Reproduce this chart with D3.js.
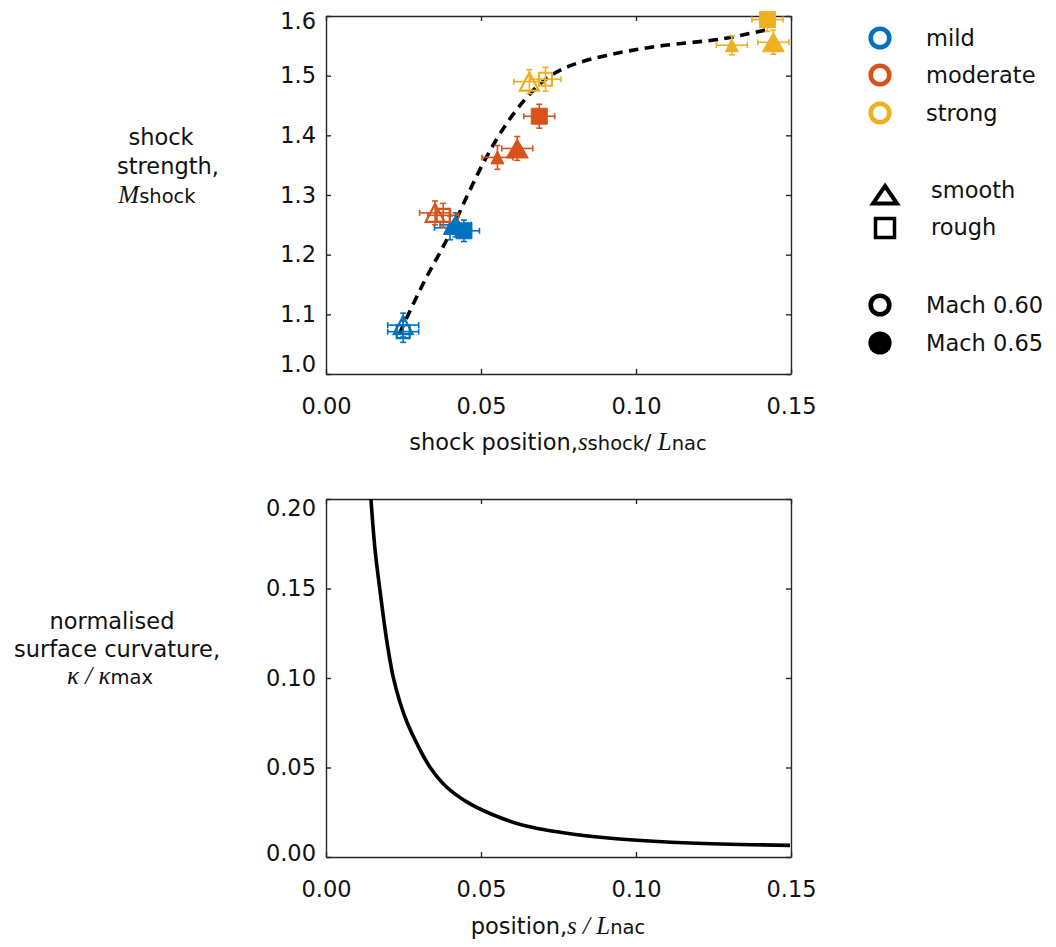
<!DOCTYPE html>
<html>
<head>
<meta charset="utf-8">
<script src="https://cdn.jsdelivr.net/npm/d3@7"></script>
<style>
  html, body { margin: 0; padding: 0; background: #fff; }
  svg { display: block; }
  text { font-family: "DejaVu Sans", sans-serif; fill: #111; }
  .math { font-family: "Liberation Serif", "DejaVu Serif", serif; font-style: italic; }
</style>
</head>
<body>
<svg id="fig" width="1056" height="947"></svg>
<script>
// ---- shock measurements: one entry per case ----
const caseSeverity = ["mild", "mild", "mild", "mild", "mild",
                      "moderate", "moderate", "moderate", "moderate", "moderate",
                      "strong", "strong", "strong", "strong", "strong"];
const caseMarker   = ["triangle", "square", "triangle", "triangle-small", "square",
                      "triangle", "square", "triangle", "triangle-small", "square",
                      "triangle", "square", "triangle", "triangle-small", "square"];
const caseMach     = [0.60, 0.60, 0.65, 0.65, 0.65,
                      0.60, 0.60, 0.65, 0.65, 0.65,
                      0.60, 0.60, 0.65, 0.65, 0.65];
const shockPosition    = [0.0249, 0.0249, 0.0418, 0.0400, 0.0445,
                          0.0352, 0.0378, 0.0617, 0.0553, 0.0688,
                          0.0656, 0.0708, 0.1443, 0.1309, 0.1424];
const shockPositionErr = [0.005, 0.005, 0.005, 0.005, 0.005,
                          0.005, 0.005, 0.005, 0.005, 0.005,
                          0.005, 0.005, 0.005, 0.005, 0.005];
const shockStrength    = [1.082, 1.071, 1.250, 1.245, 1.240,
                          1.270, 1.266, 1.378, 1.363, 1.432,
                          1.490, 1.494, 1.556, 1.551, 1.594];
const shockStrengthErr = [0.020, 0.018, 0.020, 0.020, 0.018,
                          0.020, 0.020, 0.020, 0.020, 0.020,
                          0.020, 0.020, 0.020, 0.016, 0.020];

// ---- trend line through the shock data ----
const trendPosition = [0.0237, 0.0314, 0.0389, 0.0454, 0.0518, 0.0583, 0.0640, 0.0690,
                       0.0740, 0.0800, 0.0905, 0.1067, 0.1282, 0.1422];
const trendStrength = [1.068, 1.152, 1.2245, 1.297, 1.364, 1.420, 1.459, 1.486,
                       1.505, 1.519, 1.534, 1.549, 1.562, 1.577];

// ---- surface curvature distribution ----
const curvPosition = [0.0145, 0.0158, 0.0177, 0.0195, 0.0217, 0.0239, 0.0262, 0.0293, 0.0335,
                      0.0389, 0.0454, 0.0529, 0.0636, 0.0798, 0.0957, 0.1174, 0.1497];
const curvValue    = [0.200, 0.172, 0.145, 0.122, 0.1003, 0.0862, 0.0750, 0.0634, 0.0503,
                      0.0391, 0.0308, 0.0243, 0.0177, 0.0127, 0.0099, 0.0078, 0.0065];

// ---- axis ticks ----
const xTicks        = [0, 0.05, 0.10, 0.15];
const strengthTicks = [1.0, 1.1, 1.2, 1.3, 1.4, 1.5, 1.6];
const curvTicks     = [0, 0.05, 0.10, 0.15, 0.20];

// ---- legend entries ----
const severityLevels = ["mild", "moderate", "strong"];
const surfaceTypes   = ["smooth", "rough"];
const machLabels     = ["Mach 0.60", "Mach 0.65"];

const svg = d3.select("#fig");
const AXIS = "#262626";
const FONT = 22.5;

const color = d3.scaleOrdinal().domain(severityLevels).range(["#0072BD", "#D95319", "#EDB120"]);

// panel frames
const frameTop = { left: 326, right: 791, top: 16, bottom: 374 };
const frameBot = { left: 326, right: 791, top: 499, bottom: 857 };

const xTop = d3.scaleLinear().domain([0, 0.15]).range([frameTop.left, frameTop.right]);
const yTop = d3.scaleLinear().domain([1.0, 1.6]).range([frameTop.bottom, frameTop.top]);
const xBot = d3.scaleLinear().domain([0, 0.15]).range([frameBot.left, frameBot.right]);
const yBot = d3.scaleLinear().domain([0, 0.20]).range([frameBot.bottom, frameBot.top]);

// boxed axes with inward ticks on all four sides; the end labels of the
// y axis are pulled slightly inside the frame
function boxAxes(frame, xs, ys, xt, yt, xfmt, yfmt, nudgeLow, nudgeHigh) {
  const g = svg.append("g");
  const style = sel => {
    sel.select(".domain").attr("stroke", AXIS).attr("stroke-width", 1.4);
    sel.selectAll(".tick line").attr("stroke", AXIS).attr("stroke-width", 1.4);
    sel.selectAll(".tick text").attr("font-size", null).attr("font-family", null)
      .style("font-size", FONT + "px").attr("fill", "#111");
  };
  g.append("g").attr("transform", `translate(0,${frame.bottom})`)
    .call(d3.axisBottom(xs).tickValues(xt).tickFormat(xfmt).tickSizeInner(-5).tickSizeOuter(0).tickPadding(24))
    .call(style);
  g.append("g").attr("transform", `translate(0,${frame.top})`)
    .call(d3.axisTop(xs).tickValues(xt).tickFormat("").tickSizeInner(-5).tickSizeOuter(0))
    .call(style);
  const yl = g.append("g").attr("transform", `translate(${frame.left},0)`)
    .call(d3.axisLeft(ys).tickValues(yt).tickFormat(yfmt).tickSizeInner(-5).tickSizeOuter(0).tickPadding(10))
    .call(style);
  const [lo, hi] = ys.domain();
  yl.selectAll(".tick text").attr("transform", d =>
    d === lo ? `translate(0,${nudgeLow})` : d === hi ? `translate(0,${nudgeHigh})` : null);
  g.append("g").attr("transform", `translate(${frame.right},0)`)
    .call(d3.axisRight(ys).tickValues(yt).tickFormat("").tickSizeInner(-5).tickSizeOuter(0))
    .call(style);
  g.selectAll("g").attr("font-family", null).attr("font-size", null);
  return g;
}

const defs = svg.append("defs");
defs.append("clipPath").attr("id", "clipTop")
  .append("rect").attr("x", frameTop.left).attr("y", frameTop.top)
  .attr("width", frameTop.right - frameTop.left).attr("height", frameTop.bottom - frameTop.top);
defs.append("clipPath").attr("id", "clipBot")
  .append("rect").attr("x", frameBot.left).attr("y", frameBot.top)
  .attr("width", frameBot.right - frameBot.left).attr("height", frameBot.bottom - frameBot.top);

// ===== upper panel: shock strength vs position =====
boxAxes(frameTop, xTop, yTop, xTicks, strengthTicks, d3.format(".2f"), d3.format(".1f"), -10, 5);

const trend = trendPosition.map((s, i) => [s, trendStrength[i]]);
svg.append("path")
  .attr("d", d3.line().x(d => xTop(d[0])).y(d => yTop(d[1])).curve(d3.curveCatmullRom.alpha(0.5))(trend))
  .attr("fill", "none").attr("stroke", "#000").attr("stroke-width", 3.6)
  .attr("stroke-dasharray", "9.5,6.5");

const cases = caseSeverity.map((sev, i) => ({
  sev, marker: caseMarker[i], mach: caseMach[i],
  s: shockPosition[i], ds: shockPositionErr[i],
  m: shockStrength[i], dm: shockStrengthErr[i]
}));

// error bars
const eb = svg.append("g").attr("clip-path", "url(#clipTop)");
const cap = 3;
cases.forEach(c => {
  const col = color(c.sev);
  const cx = xTop(c.s), cy = yTop(c.m);
  const x0 = xTop(c.s - c.ds), x1 = xTop(c.s + c.ds);
  const y0 = yTop(c.m - c.dm), y1 = yTop(c.m + c.dm);
  const g = eb.append("g").attr("stroke", col).attr("stroke-width", 1.6).attr("fill", "none");
  g.append("line").attr("x1", x0).attr("x2", x1).attr("y1", cy).attr("y2", cy);
  g.append("line").attr("x1", x0).attr("x2", x0).attr("y1", cy - cap).attr("y2", cy + cap);
  g.append("line").attr("x1", x1).attr("x2", x1).attr("y1", cy - cap).attr("y2", cy + cap);
  g.append("line").attr("x1", cx).attr("x2", cx).attr("y1", y0).attr("y2", y1);
  g.append("line").attr("x1", cx - cap).attr("x2", cx + cap).attr("y1", y0).attr("y2", y0);
  g.append("line").attr("x1", cx - cap).attr("x2", cx + cap).attr("y1", y1).attr("y2", y1);
});

// markers
function markerPath(kind, filled) {
  if (kind === "square") {
    const h = filled ? 8 : 6.5;
    return `M${-h},${-h}H${h}V${h}H${-h}Z`;
  }
  const w = kind === "triangle-small" ? 6.5 : (filled ? 11 : 9.5);
  const h = kind === "triangle-small" ? 6.5 : (filled ? 9.5 : 9);
  return `M0,${-h}L${w},${h}L${-w},${h}Z`;
}
const mk = svg.append("g");
cases.forEach(c => {
  const filled = c.mach > 0.62;
  mk.append("path")
    .attr("transform", `translate(${xTop(c.s)},${yTop(c.m)})`)
    .attr("d", markerPath(c.marker, filled))
    .attr("fill", filled ? color(c.sev) : "none")
    .attr("stroke", color(c.sev))
    .attr("stroke-width", filled ? 1 : 2.2)
    .attr("stroke-linejoin", "miter");
});

// upper panel axis titles
const yl1 = svg.append("text").attr("text-anchor", "middle").style("font-size", FONT + "px");
yl1.append("tspan").attr("x", 161).attr("y", 145).text("shock");
yl1.append("tspan").attr("x", 168).attr("y", 174).text("strength,");
const yl1b = svg.append("text").attr("text-anchor", "middle").attr("x", 157).attr("y", 203);
yl1b.append("tspan").attr("class", "math").style("font-size", "25px").text("M");
yl1b.append("tspan").style("font-size", "19.5px").text("shock");

const xl1 = svg.append("text").attr("text-anchor", "middle").attr("x", 558).attr("y", 450)
  .style("font-size", FONT + "px");
xl1.append("tspan").text("shock position,");
xl1.append("tspan").attr("class", "math").style("font-size", "25px").text("s");
xl1.append("tspan").style("font-size", "19.5px").text("shock");
xl1.append("tspan").style("font-size", "22px").text("/");
xl1.append("tspan").attr("class", "math").style("font-size", "25px").text(" L");
xl1.append("tspan").style("font-size", "19.5px").text("nac");

// ===== lower panel: curvature vs position =====
boxAxes(frameBot, xBot, yBot, xTicks, curvTicks, d3.format(".2f"), d3.format(".2f"), -4, 9);

const curv = curvPosition.map((s, i) => [s, curvValue[i]]);
svg.append("path").attr("clip-path", "url(#clipBot)")
  .attr("d", d3.line().x(d => xBot(d[0])).y(d => yBot(d[1])).curve(d3.curveCatmullRom.alpha(0.5))(curv))
  .attr("fill", "none").attr("stroke", "#000").attr("stroke-width", 3.6);

const yl2 = svg.append("text").attr("text-anchor", "middle").style("font-size", FONT + "px");
yl2.append("tspan").attr("x", 112).attr("y", 629).text("normalised");
yl2.append("tspan").attr("x", 117).attr("y", 657).text("surface curvature,");
const yl2b = svg.append("text").attr("text-anchor", "middle").attr("x", 110).attr("y", 684);
yl2b.append("tspan").attr("class", "math").style("font-size", "25px").text("κ");
yl2b.append("tspan").attr("class", "math").style("font-size", "25px").text(" / ");
yl2b.append("tspan").attr("class", "math").style("font-size", "25px").text("κ");
yl2b.append("tspan").style("font-size", "19.5px").text("max");

const xl2 = svg.append("text").attr("text-anchor", "middle").attr("x", 558).attr("y", 934)
  .style("font-size", FONT + "px");
xl2.append("tspan").text("position,");
xl2.append("tspan").attr("class", "math").style("font-size", "25px").text("s");
xl2.append("tspan").attr("class", "math").style("font-size", "25px").text(" / ");
xl2.append("tspan").attr("class", "math").style("font-size", "25px").text("L");
xl2.append("tspan").style("font-size", "19.5px").text("nac");

// ===== legend =====
const lg = svg.append("g");
const sevY = [38, 75, 113];
severityLevels.forEach((lvl, i) => {
  lg.append("circle").attr("cx", 880).attr("cy", sevY[i]).attr("r", 9.3)
    .attr("fill", "none").attr("stroke", color(lvl)).attr("stroke-width", 4.6);
  lg.append("text").attr("x", 926).attr("y", sevY[i] + 8).style("font-size", FONT + "px").text(lvl);
});
const surfY = [191, 228];
surfaceTypes.forEach((t, i) => {
  const d = i === 0 ? "M0,-9L12,8.5L-12,8.5Z" : "M-9.5,-9.5H9.5V9.5H-9.5Z";
  lg.append("path").attr("transform", `translate(885,${i === 0 ? 195 : 228})`).attr("d", d)
    .attr("fill", "none").attr("stroke", "#000").attr("stroke-width", i === 0 ? 4 : 3.5);
  lg.append("text").attr("x", 931).attr("y", surfY[i] + 7).style("font-size", FONT + "px").text(t);
});
const machY = [305, 343];
machLabels.forEach((t, i) => {
  if (i === 0) {
    lg.append("circle").attr("cx", 880).attr("cy", machY[i]).attr("r", 9.3)
      .attr("fill", "none").attr("stroke", "#000").attr("stroke-width", 4.6);
  } else {
    lg.append("circle").attr("cx", 880).attr("cy", machY[i]).attr("r", 11.6).attr("fill", "#000");
  }
  lg.append("text").attr("x", 926).attr("y", machY[i] + 8).style("font-size", FONT + "px").text(t);
});
</script>
</body>
</html>
